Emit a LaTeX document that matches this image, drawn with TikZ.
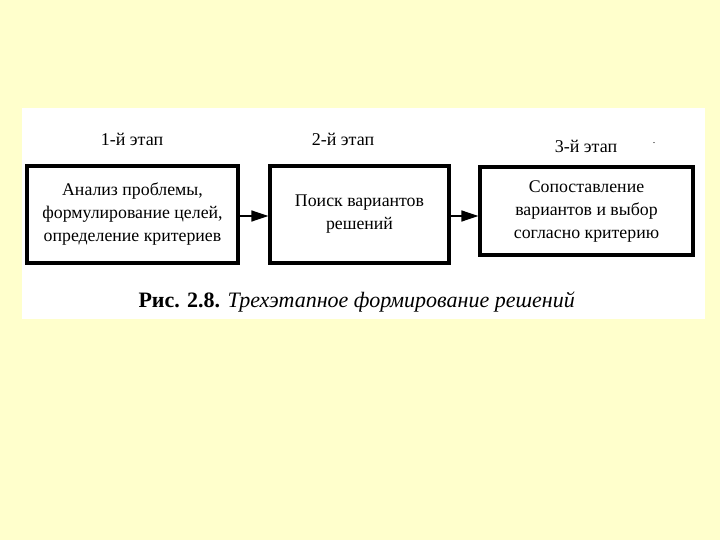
\documentclass[tikz,border=0pt]{standalone}
\usepackage{fontspec}
\setmainfont{Liberation Serif}
\usetikzlibrary{arrows.meta}
\definecolor{bgyellow}{HTML}{FFFFCC}
\begin{document}
\begin{tikzpicture}[x=1pt,y=-1pt,
  stagebox/.style={draw=black,line width=3.2pt,fill=white,inner sep=0pt},
  boxtext/.style={align=center,font=\fontsize{17.8}{23}\selectfont},
  stagelabel/.style={font=\fontsize{18}{20}\selectfont},
  conn/.style={line width=1.5pt,-{Triangle[length=17pt,width=11pt]}}]
\fill[bgyellow] (0,0) rectangle (720,540);
\useasboundingbox (0,0) rectangle (720,540);
\fill[white] (22,108) rectangle (705,319);
\node[stagebox,minimum width=211pt,minimum height=97pt] (b1) at (132.5,214.5) {};
\node[stagebox,minimum width=179pt,minimum height=97pt] (b2) at (359.5,214.5) {};
\node[stagebox,minimum width=213pt,minimum height=88pt] (b3) at (586.5,211) {};
\node[boxtext] (t1) at (132.5,214) {Анализ проблемы,\\формулирование целей,\\определение критериев};
\node[boxtext] (t2) at (359.5,214) {Поиск вариантов\\решений};
\node[boxtext] (t3) at (586.5,212) {Сопоставление\\вариантов и выбор\\согласно критерию};
\node[stagelabel] (l1) at (132,139) {1-й этап};
\node[stagelabel] (l2) at (343,139) {2-й этап};
\node[stagelabel] (l3) at (586,146) {3-й этап};
\node[font=\fontsize{10}{12}\selectfont] (dot) at (654,143) {.};
\coordinate (a1s) at (b1.east |- 0,216);
\coordinate (a1e) at (b2.west |- 0,216);
\coordinate (a2s) at (b2.east |- 0,216);
\coordinate (a2e) at (b3.west |- 0,216);
\draw[conn] (a1s) -- (a1e);
\draw[conn] (a2s) -- (a2e);
\node[anchor=west,font=\fontsize{22}{24}\selectfont] (cap) at (135,302) {\textbf{Рис. 2.8.} \textit{Трехэтапное формирование решений}};
\end{tikzpicture}
\end{document}
